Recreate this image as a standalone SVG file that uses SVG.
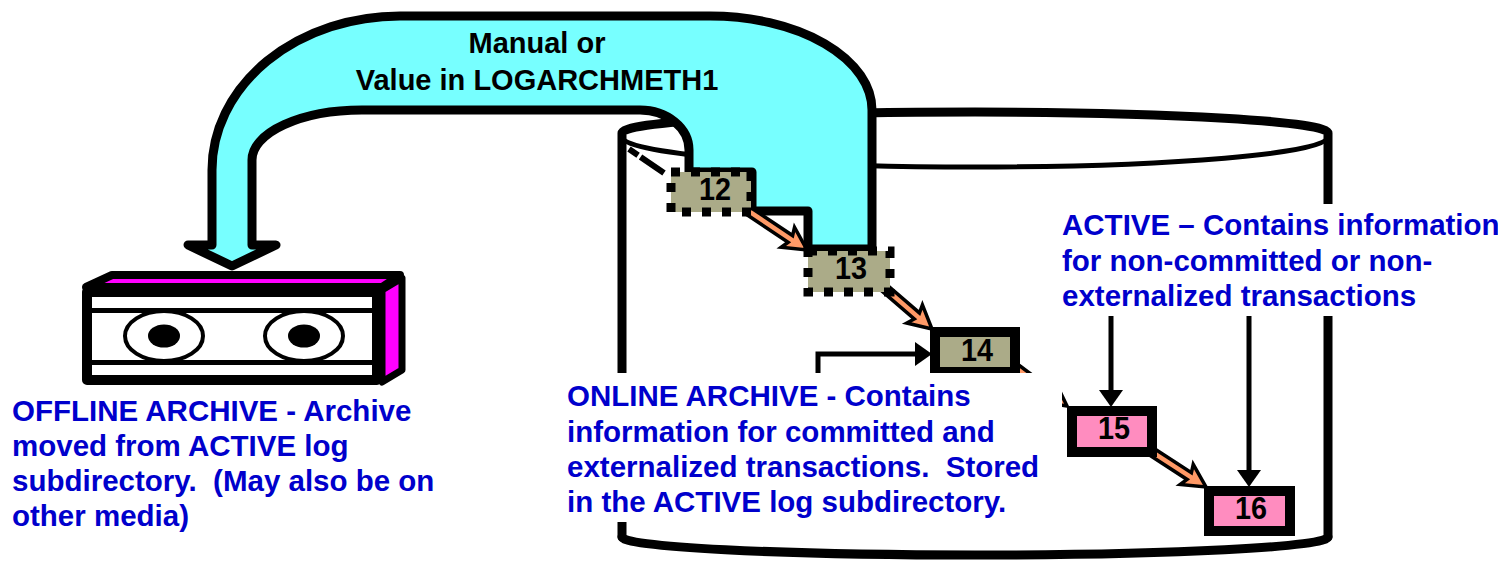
<svg xmlns="http://www.w3.org/2000/svg" width="1498" height="561" viewBox="0 0 1498 561">
  <defs>
    <style>
      .lbl{font-family:"Liberation Sans",Arial,sans-serif;font-weight:bold;font-size:29.5px;fill:#0000CC}
      .num{font-family:"Liberation Sans",Arial,sans-serif;font-weight:bold;font-size:31px;fill:#000;text-anchor:middle}
      .ttl{font-family:"Liberation Sans",Arial,sans-serif;font-weight:bold;font-size:29px;fill:#000;text-anchor:middle}
      .cyl{fill:none;stroke:#000;stroke-width:9;stroke-linejoin:round;stroke-linecap:round}
      .cyl-front{fill:none;stroke:#000;stroke-width:5}
      .dotted{fill:#ABAB88;stroke:#000;stroke-width:9;stroke-dasharray:9 11}
      .framed-k{fill:#ABAB88;stroke:#000;stroke-width:10}
      .framed-p{fill:#FF8CBF;stroke:#000;stroke-width:10}
      .ptr{fill:none;stroke:#000;stroke-width:5}
      .mask{fill:#fff;stroke:none}
    </style>
    <!-- outlined salmon arrow, tip at the origin, pointing along +x -->
    <path id="oarrow" d="M-70,-4 L-20,-4 L-23,-12 L0,0 L-23,12 L-20,4 L-70,4 Z" fill="#FF9966" stroke="#000" stroke-width="3.5" stroke-linejoin="miter"/>
    <marker id="ah" markerUnits="userSpaceOnUse" markerWidth="18" markerHeight="26" viewBox="0 0 18 26" refX="7" refY="13" orient="auto">
      <path d="M0,1 L17,13 L0,25 Z" fill="#000"/>
    </marker>
  </defs>

  <!-- log directory cylinder -->
  <g id="log-directory">
    <path class="cyl" d="M622,537 L622,133 A353,21 0 0 1 1328,133 L1328,537"/>
    <path class="cyl-front" d="M622,137 A353,30 0 0 0 1328,137"/>
    <path class="cyl" d="M622,537 A353,18 0 0 0 1328,537"/>
  </g>

  <g id="connectors">
    <!-- archive path from the log directory to offline storage -->
    <path id="archive-flow" d="M232,266 L276,245 L252,245 L252,160 A110,50 0 0 1 362,110 L640,110 A49,40 0 0 1 689,150 L689,172 L752,172 L752,211 L808,211 L808,249 L872,249 L872,110 A162,94 0 0 0 710,16 L400,16 A188,154 0 0 0 212,170 L212,245 L188,245 Z" fill="#77FFFF" stroke="#000" stroke-width="9" stroke-linejoin="round"/>
    <line x1="629" y1="149" x2="664" y2="173" stroke="#000" stroke-width="6" stroke-dasharray="11 3 40"/>
    <!-- log file succession -->
    <use href="#oarrow" transform="translate(807,250) rotate(33.7)"/>
    <use href="#oarrow" transform="translate(932,329) rotate(40.8)"/>
    <use href="#oarrow" transform="translate(1067,406) rotate(36.7)"/>
    <use href="#oarrow" transform="translate(1206,487) rotate(33)"/>
    <!-- label pointers -->
    <path class="ptr" d="M818,380 L818,354 L922,354" marker-end="url(#ah)"/>
    <line class="ptr" x1="1111" y1="312" x2="1111" y2="397" marker-end="url(#ah)"/>
    <line class="ptr" x1="1249" y1="312" x2="1249" y2="477" marker-end="url(#ah)"/>
  </g>

  <!-- offline tape storage -->
  <g id="offline-archive" stroke="#000" stroke-linejoin="round">
    <polygon points="86,287 112,275 400,275 382,287" fill="#FF00FF" stroke-width="8"/>
    <polygon points="382,290 402,278 402,370 382,382" fill="#FF00FF" stroke-width="7"/>
    <rect x="87" y="292" width="290" height="88" fill="#fff" stroke-width="10"/>
    <line x1="92" y1="310.5" x2="372" y2="310.5" stroke-width="5"/>
    <line x1="92" y1="362.5" x2="372" y2="362.5" stroke-width="5"/>
    <ellipse cx="164" cy="336" rx="39" ry="25" fill="#fff" stroke-width="4"/>
    <ellipse cx="164" cy="336" rx="16" ry="11.5" fill="#000" stroke="none"/>
    <ellipse cx="304" cy="336" rx="39" ry="25" fill="#fff" stroke-width="4"/>
    <ellipse cx="304" cy="336" rx="16" ry="11.5" fill="#000" stroke="none"/>
  </g>

  <g id="log-12">
    <rect class="dotted" x="671" y="172" width="80" height="40"/>
    <text class="num" x="715" y="200" textLength="32" lengthAdjust="spacingAndGlyphs">12</text>
  </g>
  <g id="log-13">
    <rect class="dotted" x="808" y="251" width="82" height="41"/>
    <text class="num" x="851" y="279" textLength="32" lengthAdjust="spacingAndGlyphs">13</text>
  </g>
  <g id="log-14">
    <rect class="framed-k" x="935" y="332" width="80" height="40"/>
    <text class="num" x="977" y="361" textLength="32" lengthAdjust="spacingAndGlyphs">14</text>
  </g>
  <g id="log-15">
    <rect class="framed-p" x="1072" y="411" width="80" height="41"/>
    <text class="num" x="1114" y="439" textLength="32" lengthAdjust="spacingAndGlyphs">15</text>
  </g>
  <g id="log-16">
    <rect class="framed-p" x="1209" y="491" width="81" height="40"/>
    <text class="num" x="1251" y="519" textLength="32" lengthAdjust="spacingAndGlyphs">16</text>
  </g>

  <g id="archive-method-label">
    <text class="ttl" x="537" y="53">Manual or</text>
    <text class="ttl" x="537" y="90">Value in LOGARCHMETH1</text>
  </g>

  <g id="offline-label">
    <text class="lbl" xml:space="preserve"><tspan x="12" y="421">OFFLINE ARCHIVE - Archive</tspan><tspan x="12" y="456">moved from ACTIVE log</tspan><tspan x="12" y="491">subdirectory.  (May also be on</tspan><tspan x="12" y="526">other media)</tspan></text>
  </g>

  <g id="online-label">
    <rect class="mask" x="560" y="373" width="502" height="149"/>
    <text class="lbl" xml:space="preserve"><tspan x="567" y="406">ONLINE ARCHIVE - Contains</tspan><tspan x="567" y="442">information for committed and</tspan><tspan x="567" y="477">externalized transactions.  Stored</tspan><tspan x="567" y="512">in the ACTIVE log subdirectory.</tspan></text>
  </g>

  <g id="active-label">
    <rect class="mask" x="1055" y="204" width="443" height="112"/>
    <text class="lbl" xml:space="preserve"><tspan x="1062" y="235">ACTIVE – Contains information</tspan><tspan x="1062" y="271">for non-committed or non-</tspan><tspan x="1062" y="306">externalized transactions</tspan></text>
  </g>
</svg>
